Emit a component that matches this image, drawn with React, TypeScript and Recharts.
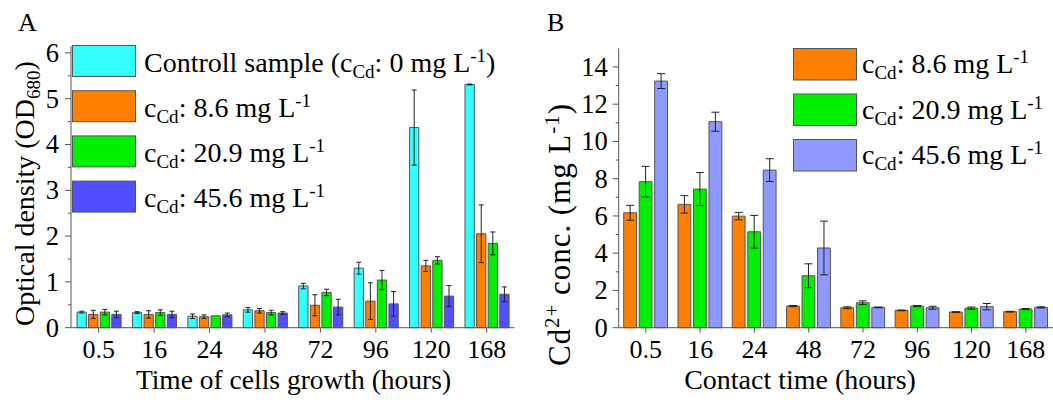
import React from 'react';
import { BarChart, Bar, XAxis, YAxis, ErrorBar, Legend } from 'recharts';

const FONT = 'Liberation Serif';
const FS = { fontFamily: FONT };

// ---------- shared categories ----------
const categories = ['0.5', '16', '24', '48', '72', '96', '120', '168'];

// ---------- Panel A: optical density ----------
const odControl = [0.34, 0.33, 0.25, 0.39, 0.91, 1.3, 4.37, 5.31];
const odControlErr = [0.02, 0.02, 0.05, 0.05, 0.06, 0.13, 0.82, 0.01];
const od86 = [0.29, 0.29, 0.24, 0.37, 0.49, 0.58, 1.35, 2.05];
const od86Err = [0.09, 0.08, 0.04, 0.05, 0.23, 0.4, 0.12, 0.63];
const od209 = [0.34, 0.33, 0.26, 0.33, 0.77, 1.04, 1.47, 1.84];
const od209Err = [0.06, 0.06, 0.0, 0.05, 0.07, 0.21, 0.08, 0.25];
const od456 = [0.29, 0.29, 0.28, 0.32, 0.45, 0.52, 0.69, 0.73];
const od456Err = [0.07, 0.07, 0.04, 0.03, 0.17, 0.27, 0.23, 0.16];

const ticksA = [0, 0.5, 1, 1.5, 2, 2.5, 3, 3.5, 4, 4.5, 5, 5.5, 6];

// ---------- Panel B: Cd2+ concentration ----------
const cd86 = [6.17, 6.62, 5.99, 1.16, 1.07, 0.93, 0.84, 0.86];
const cd86Err = [0.4, 0.47, 0.2, 0.03, 0.05, 0.02, 0.02, 0.02];
const cd209 = [7.84, 7.44, 5.15, 2.79, 1.34, 1.16, 1.05, 1.0];
const cd209Err = [0.82, 0.89, 0.88, 0.64, 0.1, 0.03, 0.06, 0.03];
const cd456 = [13.24, 11.06, 8.46, 4.28, 1.09, 1.07, 1.13, 1.09];
const cd456Err = [0.4, 0.51, 0.61, 1.44, 0.02, 0.08, 0.17, 0.03];

const ticksB = [0, 1, 2, 3, 4, 5, 6, 7, 8, 9, 10, 11, 12, 13, 14];

// legend values
const legendA = [
  { prefix: 'Controll sample (', value: '0', close: true, color: '#33FFFF' },
  { prefix: '', value: '8.6', close: false, color: '#FF8000' },
  { prefix: '', value: '20.9', close: false, color: '#00F000' },
  { prefix: '', value: '45.6', close: false, color: '#4F4FFF' },
];
const legendB = [
  { prefix: '', value: '8.6', close: false, color: '#FF8000' },
  { prefix: '', value: '20.9', close: false, color: '#00F000' },
  { prefix: '', value: '45.6', close: false, color: '#8E9AFF' },
];

const dataA = categories.map((c, i) => ({
  t: c,
  ctrl: odControl[i],
  ctrlErr: odControlErr[i],
  s1: od86[i],
  s1Err: od86Err[i],
  s2: od209[i],
  s2Err: od209Err[i],
  s3: od456[i],
  s3Err: od456Err[i],
}));

const dataB = categories.map((c, i) => ({
  t: c,
  s1: cd86[i],
  s1Err: cd86Err[i],
  s2: cd209[i],
  s2Err: cd209Err[i],
  s3: cd456[i],
  s3Err: cd456Err[i],
}));

const AXIS = '#555';
const B_LEFT = 525;

const makeYTick = (isMajor: (v: number) => boolean, labelOffset: number) => (props: any) => {
  const { x, y, payload } = props;
  const v = payload.value;
  const major = isMajor(v);
  return (
    <g>
      <line x1={x} x2={x - (major ? 6 : 3)} y1={y} y2={y} stroke={AXIS} strokeWidth={1} />
      {major && (
        <text x={x - labelOffset} y={y} dy="0.34em" textAnchor="end" fontSize={26.5} style={FS} fill="#000">
          {v}
        </text>
      )}
    </g>
  );
};

const XTick = (props: any) => {
  const { x, y, payload } = props;
  return (
    <text x={x} y={y} dy="0.71em" textAnchor="middle" fontSize={26} style={FS} fill="#000">
      {payload.value}
    </text>
  );
};

const ConcText = ({ x, y, prefix, value, close }: any) => (
  <text x={x} y={y} fontSize={28} style={FS} fill="#000">
    <tspan>{prefix}c</tspan>
    <tspan fontSize={19} dy={6}>Cd</tspan>
    <tspan dy={-6}>{`: ${value} mg L`}</tspan>
    <tspan fontSize={19} dy={-10}>-1</tspan>
    {close && <tspan dy={10}>)</tspan>}
  </text>
);

const LegendBox = ({ items, boxW, boxH, rowGap, textX, baseline }: any) => (
  <svg width={480} height={200} style={{ overflow: 'visible', display: 'block' }}>
    {items.map((it: any, i: number) => (
      <g key={i}>
        <rect x={0.5} y={0.5 + rowGap * i} width={boxW} height={boxH} fill={it.color} stroke={AXIS} strokeWidth={1} />
        <ConcText x={textX} y={baseline + rowGap * i} prefix={it.prefix} value={it.value} close={it.close} />
      </g>
    ))}
  </svg>
);

const yLabelA = () => (
  <g>
    <text x={18} y={31} fontSize={26} style={FS} fill="#000">A</text>
    <text transform="rotate(-90, 34, 326)" x={34} y={326} fontSize={28} style={FS} fill="#000" textAnchor="start">
      Optical density (OD<tspan fontSize={19} dy={6}>680</tspan>
      <tspan dy={-6}>)</tspan>
    </text>
  </g>
);

const xLabelA = () => (
  <text x={293.5} y={389} fontSize={27.5} style={FS} fill="#000" textAnchor="middle">
    Time of cells growth (hours)
  </text>
);

const yLabelB = () => {
  const bx = 570 - B_LEFT;
  return (
    <g>
      <text x={547 - B_LEFT} y={31} fontSize={26} style={FS} fill="#000">B</text>
      <text
        transform={`rotate(-90, ${bx}, 366)`}
        x={bx}
        y={366}
        fontSize={31}
        style={FS}
        fill="#000"
        textAnchor="start"
        textLength={262}
        lengthAdjust="spacing"
      >
        Cd<tspan fontSize={21} dy={-11}>2+</tspan>
        <tspan dy={11}> conc. (mg L</tspan>
        <tspan fontSize={21} dy={-11}>-1</tspan>
        <tspan dy={11}>)</tspan>
      </text>
    </g>
  );
};

const xLabelB = () => (
  <text x={800 - B_LEFT} y={389} fontSize={28} style={FS} fill="#000" textAnchor="middle">
    Contact time (hours)
  </text>
);

export default function App() {
  return (
    <div style={{ position: 'absolute', left: 0, top: 0, width: 1053, height: 403, background: '#fff', overflow: 'hidden', fontFamily: FONT }}>
      <div style={{ position: 'absolute', left: 0, top: 0 }}>
        <BarChart
          width={525}
          height={403}
          data={dataA}
          margin={{ top: 46, right: 10.6, bottom: 0, left: 0 }}
          barGap={2.3}
        >
          <XAxis
            dataKey="t"
            height={75.3}
            interval={0}
            tick={<XTick />}
            tickSize={5}
            tickMargin={7}
            axisLine={{ stroke: AXIS }}
            tickLine={{ stroke: AXIS }}
            label={xLabelA}
          />
          <YAxis
            width={71}
            domain={[0, 6.15]}
            ticks={ticksA}
            interval={0}
            tickSize={0}
            tickMargin={0}
            tickLine={false}
            axisLine={{ stroke: AXIS }}
            tick={makeYTick((v) => Number.isInteger(v), 12)}
            label={yLabelA}
          />
          <Legend
            layout="vertical"
            align="center"
            verticalAlign="middle"
            wrapperStyle={{ left: 72, top: 45, width: 450, height: 190 }}
            content={() => (
              <LegendBox items={legendA} boxW={63} boxH={31} rowGap={45.2} textX={72} baseline={26.7} />
            )}
          />
          <Bar dataKey="ctrl" name="Controll sample" fill="#33FFFF" stroke={AXIS} strokeWidth={1} barSize={9.3} isAnimationActive={false}>
            <ErrorBar dataKey="ctrlErr" direction="y" width={2.5} stroke="#222" strokeWidth={1} isAnimationActive={false} />
          </Bar>
          <Bar dataKey="s1" name="8.6" fill="#FF8000" stroke={AXIS} strokeWidth={1} barSize={9.3} isAnimationActive={false}>
            <ErrorBar dataKey="s1Err" direction="y" width={2.5} stroke="#222" strokeWidth={1} isAnimationActive={false} />
          </Bar>
          <Bar dataKey="s2" name="20.9" fill="#00F000" stroke={AXIS} strokeWidth={1} barSize={9.3} isAnimationActive={false}>
            <ErrorBar dataKey="s2Err" direction="y" width={2.5} stroke="#222" strokeWidth={1} isAnimationActive={false} />
          </Bar>
          <Bar dataKey="s3" name="45.6" fill="#4F4FFF" stroke={AXIS} strokeWidth={1} barSize={9.3} isAnimationActive={false}>
            <ErrorBar dataKey="s3Err" direction="y" width={2.5} stroke="#222" strokeWidth={1} isAnimationActive={false} />
          </Bar>
        </BarChart>
      </div>
      <div style={{ position: 'absolute', left: B_LEFT, top: 0 }}>
        <BarChart
          width={1053 - B_LEFT}
          height={403}
          data={dataB}
          margin={{ top: 48.3, right: 0, bottom: 0, left: 0 }}
          barGap={2.7}
        >
          <XAxis
            dataKey="t"
            height={75.3}
            interval={0}
            tick={<XTick />}
            tickSize={5}
            tickMargin={7}
            axisLine={{ stroke: AXIS }}
            tickLine={{ stroke: AXIS }}
            label={xLabelB}
          />
          <YAxis
            width={618.7 - B_LEFT}
            domain={[0, 15]}
            ticks={ticksB}
            interval={0}
            tickSize={0}
            tickMargin={0}
            tickLine={false}
            axisLine={{ stroke: AXIS }}
            tick={makeYTick((v) => v % 2 === 0, 11)}
            label={yLabelB}
          />
          <Legend
            layout="vertical"
            align="center"
            verticalAlign="middle"
            wrapperStyle={{ left: 792.7 - B_LEFT, top: 48, width: 260, height: 150 }}
            content={() => (
              <LegendBox items={legendB} boxW={63} boxH={31.5} rowGap={45.5} textX={69} baseline={25} />
            )}
          />
          <Bar dataKey="s1" name="8.6" fill="#FF8000" stroke={AXIS} strokeWidth={1} barSize={12.8} isAnimationActive={false}>
            <ErrorBar dataKey="s1Err" direction="y" width={4} stroke="#222" strokeWidth={1} isAnimationActive={false} />
          </Bar>
          <Bar dataKey="s2" name="20.9" fill="#00F000" stroke={AXIS} strokeWidth={1} barSize={12.8} isAnimationActive={false}>
            <ErrorBar dataKey="s2Err" direction="y" width={4} stroke="#222" strokeWidth={1} isAnimationActive={false} />
          </Bar>
          <Bar dataKey="s3" name="45.6" fill="#8E9AFF" stroke={AXIS} strokeWidth={1} barSize={12.8} isAnimationActive={false}>
            <ErrorBar dataKey="s3Err" direction="y" width={4} stroke="#222" strokeWidth={1} isAnimationActive={false} />
          </Bar>
        </BarChart>
      </div>
    </div>
  );
}
